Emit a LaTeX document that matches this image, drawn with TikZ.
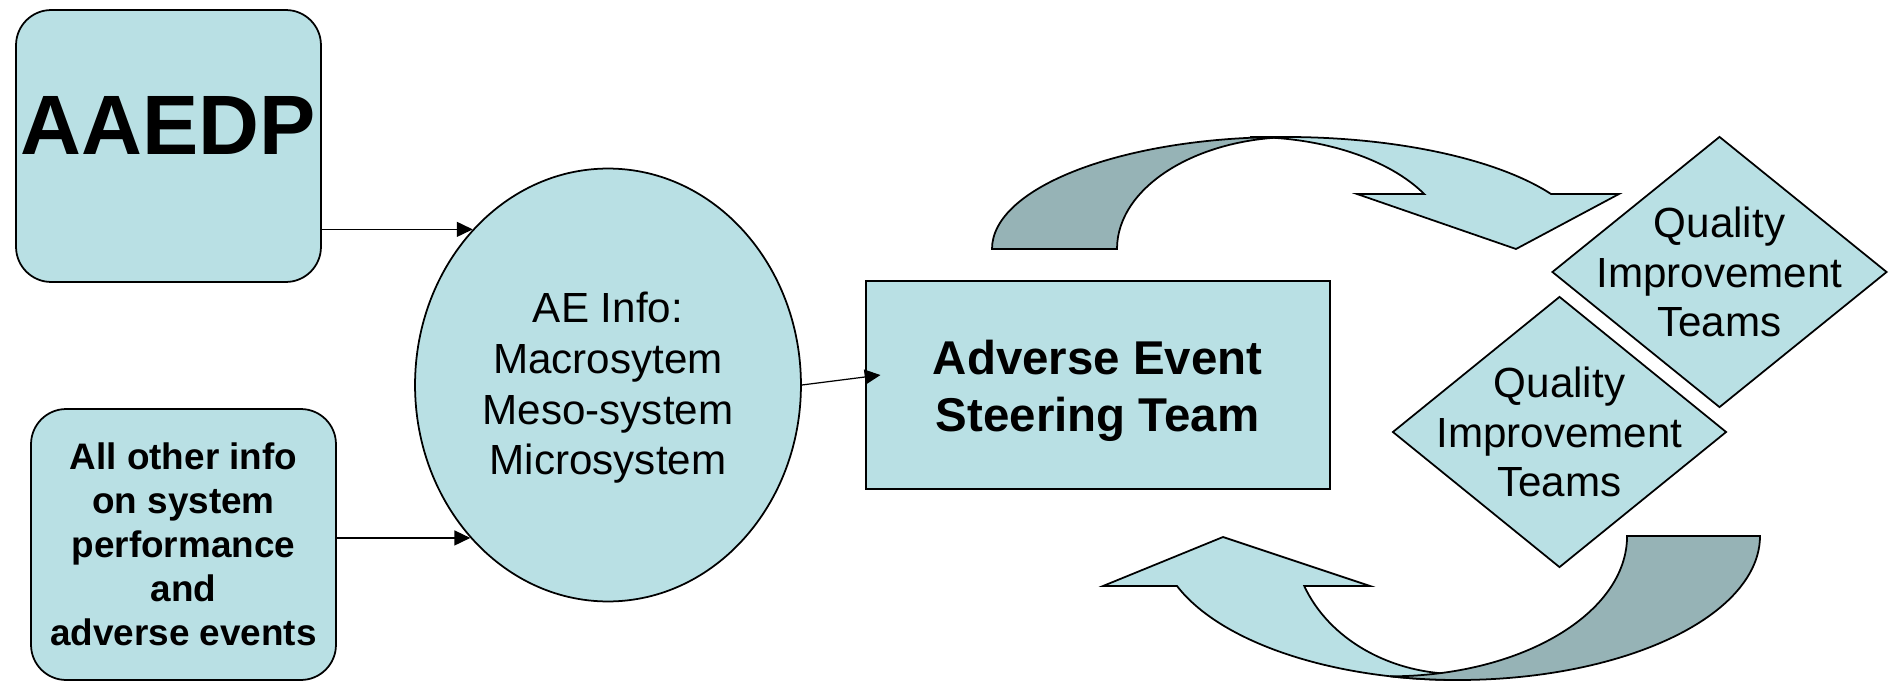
\documentclass[tikz,border=0pt]{standalone}
\usepackage{fontspec}
\setmainfont{Liberation Sans}
\usepackage{xcolor}
\usepackage{tikz}
\usetikzlibrary{arrows.meta,positioning,shapes.geometric}

\definecolor{qlight}{RGB}{185,224,228}
\definecolor{qdark}{RGB}{150,179,182}

\begin{document}
\begin{tikzpicture}[
    x=0.02cm, y=0.02cm,
    >=Latex,
    srcbox/.style={draw, fill=qlight, line width=1pt, rounded corners=20pt, align=center, minimum width=6.1cm, minimum height=5.44cm, inner sep=0pt},
    infobubble/.style={draw, fill=qlight, line width=1pt, ellipse, align=center, minimum width=7.72cm, minimum height=8.66cm, inner sep=0pt, font=\fontsize{24pt}{28.8pt}\selectfont},
    steerbox/.style={draw, fill=qlight, line width=1pt, align=center, minimum width=9.28cm, minimum height=4.16cm, inner sep=0pt, font=\fontsize{27pt}{32.3pt}\selectfont\bfseries},
    qit/.style={draw, fill=qlight, line width=1pt, diamond, minimum width=6.7cm, minimum height=5.42cm, inner sep=0pt},
    qittext/.style={align=center, inner sep=0pt, font=\fontsize{24pt}{28.4pt}\selectfont},
    bandlight/.style={draw, fill=qlight, line width=1pt},
    banddark/.style={draw, fill=qdark, line width=1pt},
    line/.style={-{Triangle[length=9pt,width=8.5pt]}, line width=0.7pt}
]
\useasboundingbox (0,0) rectangle (1897,681);

% Circular arrows between steering team and QI teams (light band first, dark band in front).
\draw[bandlight] (1250,544) arc[start angle=90, end angle=29.4, x radius=200, y radius=112]
    -- (1357,487) -- (1516,432) -- (1619,487) -- (1551,487)
    arc[start angle=29.4, end angle=90, x radius=305, y radius=112] -- cycle;
\draw[banddark] (992,432) arc[start angle=180, end angle=90, x radius=293, y radius=112]
    -- (1295,544) arc[start angle=90, end angle=180, x radius=178, y radius=112] -- cycle;
\draw[bandlight] (1458,7) arc[start angle=-90, end angle=-158.8, x radius=165, y radius=138]
    -- (1370,95) -- (1223,144) -- (1103,95) -- (1177,95)
    arc[start angle=-159.7, end angle=-90, x radius=300, y radius=144] -- cycle;
\draw[banddark] (1760,145) arc[start angle=0, end angle=-103, x radius=302, y radius=144]
    arc[start angle=-90, end angle=0, x radius=237, y radius=140.3] -- cycle;

% Information sources.
\node[srcbox, text depth=23.8pt, font=\fontsize{48pt}{58pt}\selectfont\bfseries] (aaedp) at (168.5,535) {AAEDP};
\node[srcbox, minimum height=5.42cm, font=\fontsize{21pt}{25pt}\selectfont\bfseries] (otherinfo) at (183.5,136.5)
    {All other info\\on system\\performance\\and\\adverse events};

% AE information and the steering team.
\node[infobubble] (info) at (608,296) {\rule{0pt}{20.7pt}AE Info:\\Macrosytem\\Meso-system\\Microsystem};
\node[steerbox, right=1.26cm of info] (steer) {\rule{0pt}{26.5pt}Adverse Event\\Steering Team};

% Quality improvement teams.
\node[qit, label={[qittext]center:Quality\\Improvement\\Teams}] (qitA) at (1719.5,409) {};
\node[qit, minimum width=6.68cm, label={[qittext]center:Quality\\Improvement\\Teams}] (qitB) at (1559.5,249) {};

% Arrows.
\draw[line] (info.131 -| aaedp.east) -- (info.131);
\draw[line] (info.228 -| otherinfo.east) -- (info.228);
\draw[line, shorten >=-9pt] (info.east) -- ([yshift=0.16cm]steer.west);

\end{tikzpicture}
\end{document}
